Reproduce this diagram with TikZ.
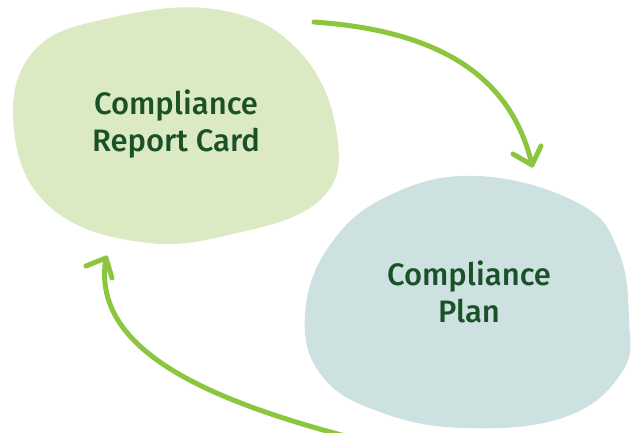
\documentclass[tikz,border=0pt]{standalone}
\usepackage{fontspec}
\setmainfont{Fira Sans}[BoldFont={* Medium}]
\definecolor{blobgreen}{HTML}{DCEAC4}
\definecolor{blobblue}{HTML}{CEE1E1}
\definecolor{txtgreen}{HTML}{1B5128}
\definecolor{arrgreen}{HTML}{8CC63F}
\tikzset{
  blobtext/.style={text=txtgreen, align=center, font=\bfseries\fontsize{31}{37}\selectfont},
  flowline/.style={draw=arrgreen, line width=5pt, line cap=round, line join=round}
}
\begin{document}
\begin{tikzpicture}[x=1pt,y=-1pt]
\useasboundingbox (0,0) rectangle (635,432);
\clip (0,0) rectangle (635,432);
\fill[blobgreen] plot[smooth cycle, tension=0.7] coordinates {(220,10) (300,52) (337,135) (320,200) (233,234) (140,242) (50,207) (14,130) (33,52) (110,18)};
\fill[blobblue] plot[smooth cycle, tension=0.7] coordinates {(478,176) (578,203) (618,250) (629,320) (622,372) (565,417) (465,428) (380,412) (322,376) (305,315) (330,245) (390,195)};
\node[blobtext] (card) at (176,124) {Compliance\\Report Card};
\node[blobtext] (plan) at (469,292) {Compliance\\Plan};
\coordinate (a1s) at (314,22);
\coordinate (a1e) at (532,165);
\coordinate (a2s) at (345,436);
\coordinate (a2e) at (106,258);
\draw[flowline] (a1s) .. controls (430,30) and (510,70) .. (a1e);
\draw[flowline] (513,154) -- (a1e) -- (541,146);
\draw[flowline] (a2s) .. controls (210,400) and (90,350) .. (a2e);
\draw[flowline] (86,266) -- (a2e) -- (112,278);
\end{tikzpicture}
\end{document}
